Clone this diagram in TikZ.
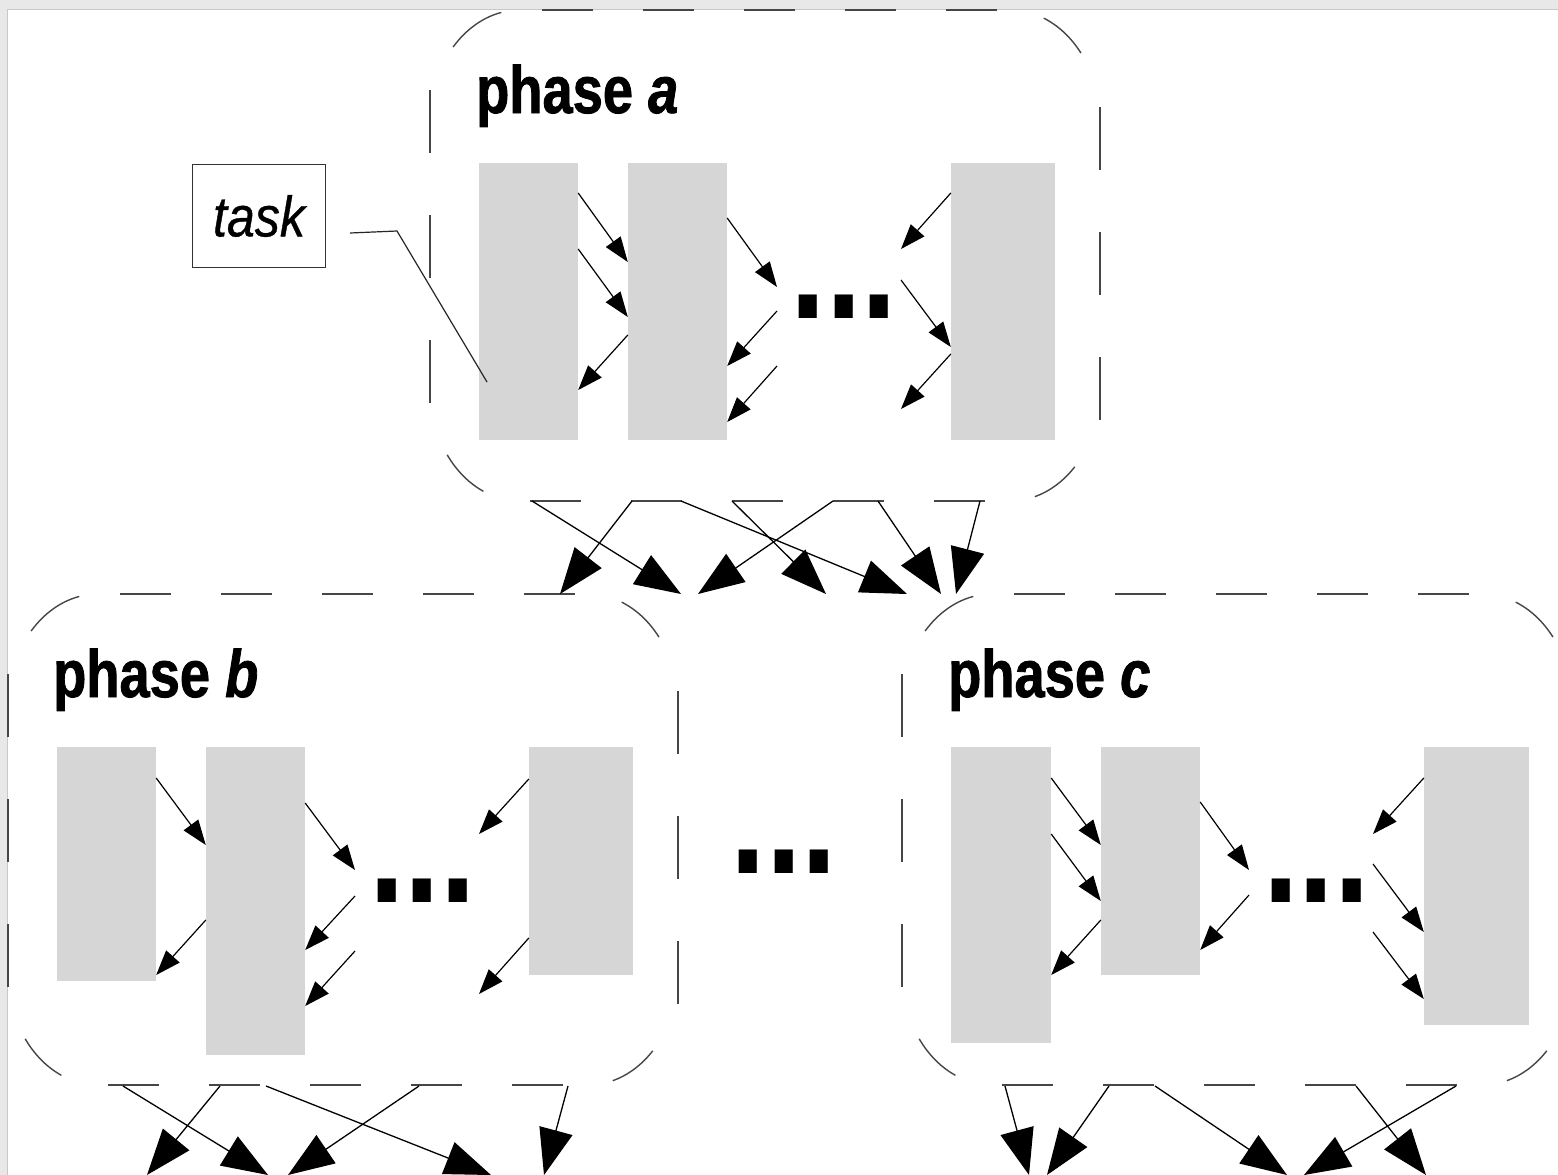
\documentclass[tikz,border=0pt]{standalone}
\usepackage{fontspec}
\setmainfont{Liberation Sans}
\newfontfamily\titlefont[FakeStretch=0.81,FakeBold=1.2]{Liberation Sans}
\newfontfamily\dotfont[FakeStretch=0.81]{Liberation Sans}
\newfontfamily\taskfont[FakeStretch=0.88,FakeBold=0.6]{Liberation Sans}
\usetikzlibrary{arrows.meta}
\definecolor{taskgray}{RGB}{214,214,214}
\definecolor{boxgray}{RGB}{70,70,70}
\definecolor{framegray}{RGB}{232,232,232}
\definecolor{frameline}{RGB}{200,200,200}
\tikzset{
  boxline/.style={draw=boxgray, line width=1.4pt},
  hdash/.style={dash pattern=on 51pt off 50pt},
  vdash/.style={dash pattern=on 63pt off 62pt},
  taskrect/.style={fill=taskgray, draw=none, inner sep=0pt},
  sarr/.style={draw=black, line width=1.2pt, -{Triangle[length=25pt,width=18pt]}},
  barr/.style={draw=black, line width=1.3pt, -{Triangle[length=46pt,width=34pt]}},
  leader/.style={draw=black!85, line width=1.2pt},
  phasetitle/.style={anchor=base west, inner sep=0pt, font=\titlefont\fontsize{67}{67}\selectfont\bfseries},
  dotstext/.style={anchor=base, inner sep=0pt, font=\dotfont\fontsize{158}{158}\selectfont\bfseries},
  phasebox/.pic={
    \draw[boxline, hdash] (112,0) -- (568,0);
    \draw[boxline, hdash] (100,491) -- (556,491);
    \draw[boxline, vdash] (0,80) -- (0,393);
    \draw[boxline, vdash] (670,97) -- (670,410);
    \draw[boxline] (90,112) ++(222:90 and 112) arc[start angle=222, end angle=258, x radius=90, y radius=112];
    \draw[boxline] (580,112) ++(292:90 and 112) arc[start angle=292, end angle=322, x radius=90, y radius=112];
    \draw[boxline] (580,379) ++(44:90 and 112) arc[start angle=44, end angle=74, x radius=90, y radius=112];
    \draw[boxline] (90,379) ++(114:90 and 112) arc[start angle=114, end angle=144, x radius=90, y radius=112];
  }
}
\begin{document}
\begin{tikzpicture}[x=1pt, y=-1pt]
\useasboundingbox (0,0) rectangle (1558,1175);
\clip (0,0) rectangle (1558,1175);
\fill[white] (0,0) rectangle (1558,1175);
% frame of the screenshot
\fill[framegray] (0,0) rectangle (1558,9);
\fill[framegray] (0,0) rectangle (7,1175);
\draw[frameline, line width=1pt] (7,1175) -- (7,9) -- (1558,9);

% phase containers
\pic at (430,10) {phasebox};
\pic at (8,594) {phasebox};
\pic at (902,594) {phasebox};

% titles
\node[phasetitle] (ta) at (476,113) {phase \itshape a};
\node[phasetitle] (tb) at (53,697) {phase \itshape b};
\node[phasetitle] (tc) at (948,697) {phase \itshape c};

% tasks of phase a
\node[taskrect, minimum width=99pt, minimum height=277pt] (a1) at (528.5,301.5) {};
\node[taskrect, minimum width=99pt, minimum height=277pt] (a2) at (677.5,301.5) {};
\node[taskrect, minimum width=104pt, minimum height=277pt] (a3) at (1003,301.5) {};
% tasks of phase b
\node[taskrect, minimum width=99pt, minimum height=234pt] (b1) at (106.5,864) {};
\node[taskrect, minimum width=99pt, minimum height=308pt] (b2) at (255.5,901) {};
\node[taskrect, minimum width=104pt, minimum height=228pt] (b3) at (581,861) {};
% tasks of phase c
\node[taskrect, minimum width=100pt, minimum height=296pt] (c1) at (1001,895) {};
\node[taskrect, minimum width=99pt, minimum height=228pt] (c2) at (1150.5,861) {};
\node[taskrect, minimum width=105pt, minimum height=278pt] (c3) at (1476.5,886) {};

% ellipses
\node[dotstext] (da) at (844,318) {...};
\node[dotstext] (db) at (422.5,902) {...};
\node[dotstext] (dc) at (1316.5,902) {...};
\node[dotstext] (dm) at (784,873) {...};

% task label
\node[draw=black!80, line width=1.2pt, minimum width=133pt, minimum height=103pt, inner sep=0pt,
      font=\taskfont\fontsize{57}{57}\selectfont\itshape] (task) at (259,216) {task};
\coordinate (ld0) at (350,233);
\coordinate (ld1) at (397,231);
\coordinate (ld2) at (487,382);
\draw[leader] (ld0) -- (ld1) -- (ld2);

% free ends inside phases
\coordinate (fa1) at (777,287);
\coordinate (fa2) at (777,311);
\coordinate (fa3) at (777,366);
\coordinate (fa4) at (901,249);
\coordinate (fa5) at (901,280);
\coordinate (fa6) at (901,409);
\coordinate (fb1) at (355,870);
\coordinate (fb2) at (355,896);
\coordinate (fb3) at (355,951);
\coordinate (fb4) at (479,834);
\coordinate (fb5) at (479,994);
\coordinate (fc1) at (1249,870);
\coordinate (fc2) at (1249,895);
\coordinate (fc3) at (1373,834);
\coordinate (fc4) at (1373,864);
\coordinate (fc5) at (1373,932);

% arrows in phase a
\draw[sarr] (a1.east |- 0,193) -- (a2.west |- 0,262);
\draw[sarr] (a1.east |- 0,249) -- (a2.west |- 0,317);
\draw[sarr] (a2.west |- 0,335) -- (a1.east |- 0,390);
\draw[sarr] (a2.east |- 0,218) -- (fa1);
\draw[sarr] (fa2) -- (a2.east |- 0,366);
\draw[sarr] (fa3) -- (a2.east |- 0,422);
\draw[sarr] (a3.west |- 0,193) -- (fa4);
\draw[sarr] (fa5) -- (a3.west |- 0,347);
\draw[sarr] (a3.west |- 0,354) -- (fa6);

% arrows in phase b
\draw[sarr] (b1.east |- 0,778) -- (b2.west |- 0,845);
\draw[sarr] (b2.west |- 0,920) -- (b1.east |- 0,975);
\draw[sarr] (b2.east |- 0,803) -- (fb1);
\draw[sarr] (fb2) -- (b2.east |- 0,950);
\draw[sarr] (fb3) -- (b2.east |- 0,1006);
\draw[sarr] (b3.west |- 0,779) -- (fb4);
\draw[sarr] (b3.west |- 0,938) -- (fb5);

% arrows in phase c
\draw[sarr] (c1.east |- 0,778) -- (c2.west |- 0,845);
\draw[sarr] (c1.east |- 0,834) -- (c2.west |- 0,901);
\draw[sarr] (c2.west |- 0,920) -- (c1.east |- 0,975);
\draw[sarr] (c2.east |- 0,802) -- (fc1);
\draw[sarr] (fc2) -- (c2.east |- 0,950);
\draw[sarr] (c3.west |- 0,778) -- (fc3);
\draw[sarr] (fc4) -- (c3.west |- 0,932);
\draw[sarr] (fc5) -- (c3.west |- 0,999);

% arrows from phase a to phases b and c
\coordinate (oa1) at (532,501);
\coordinate (oa2) at (632,501);
\coordinate (oa3) at (681,501);
\coordinate (oa4) at (732,501);
\coordinate (oa5) at (833,501);
\coordinate (oa6) at (878,501);
\coordinate (oa7) at (980,501);
\coordinate (ia1) at (681,594);
\coordinate (ia2) at (560,594);
\coordinate (ia3) at (907,594);
\coordinate (ia4) at (826,594);
\coordinate (ia5) at (698,594);
\coordinate (ia6) at (941,594);
\coordinate (ia7) at (956,594);
\draw[barr] (oa1) -- (ia1);
\draw[barr] (oa2) -- (ia2);
\draw[barr] (oa3) -- (ia3);
\draw[barr] (oa4) -- (ia4);
\draw[barr] (oa5) -- (ia5);
\draw[barr] (oa6) -- (ia6);
\draw[barr] (oa7) -- (ia7);

% arrows leaving phase b
\coordinate (ob1) at (123,1086);
\coordinate (ob2) at (220,1086);
\coordinate (ob3) at (266,1086);
\coordinate (ob4) at (419,1086);
\coordinate (ob5) at (568,1086);
\coordinate (eb1) at (268,1175);
\coordinate (eb2) at (147,1175);
\coordinate (eb3) at (491,1175);
\coordinate (eb4) at (288,1175);
\coordinate (eb5) at (544,1175);
\draw[barr] (ob1) -- (eb1);
\draw[barr] (ob2) -- (eb2);
\draw[barr] (ob3) -- (eb3);
\draw[barr] (ob4) -- (eb4);
\draw[barr] (ob5) -- (eb5);

% arrows leaving phase c
\coordinate (oc1) at (1005,1086);
\coordinate (oc2) at (1109,1086);
\coordinate (oc3) at (1155,1086);
\coordinate (oc4) at (1356,1086);
\coordinate (oc5) at (1456,1086);
\coordinate (ec1) at (1029,1175);
\coordinate (ec2) at (1047,1175);
\coordinate (ec3) at (1287,1175);
\coordinate (ec4) at (1426,1175);
\coordinate (ec5) at (1304,1175);
\draw[barr] (oc1) -- (ec1);
\draw[barr] (oc2) -- (ec2);
\draw[barr] (oc3) -- (ec3);
\draw[barr] (oc4) -- (ec4);
\draw[barr] (oc5) -- (ec5);
\end{tikzpicture}
\end{document}
